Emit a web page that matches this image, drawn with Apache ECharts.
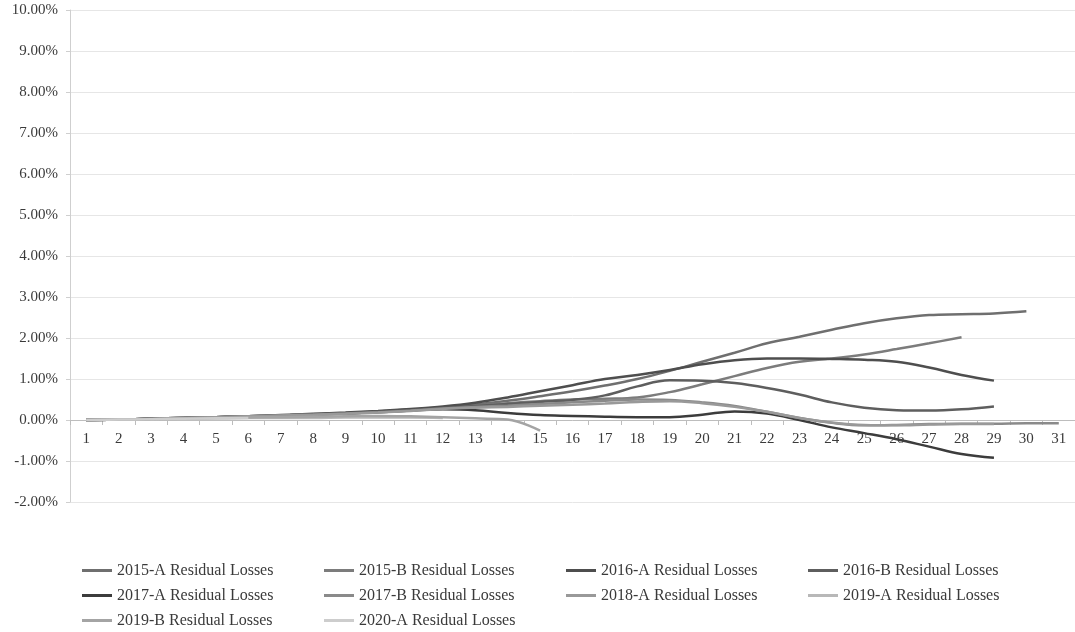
<!DOCTYPE html>
<html>
<head>
<meta charset="utf-8">
<script src="https://cdn.jsdelivr.net/npm/echarts@6/dist/echarts.min.js"></script>
<style>html,body{margin:0;padding:0;background:#fff}#c{width:1075px;height:632px}</style>
</head>
<body>
<div id="c"></div>
<script>
const categories = ['1','2','3','4','5','6','7','8','9','10','11','12','13','14','15','16','17','18','19','20','21','22','23','24','25','26','27','28','29','30','31'];
const yTicks = { min: -2, max: 10, interval: 1 };

const s2015A = [0,0.01,0.03,0.05,0.07,0.09,0.11,0.14,0.17,0.21,0.26,0.31,0.38,0.47,0.58,0.70,0.84,1.00,1.20,1.42,1.64,1.87,2.03,2.20,2.36,2.48,2.56,2.58,2.60,2.65,null];
const s2015B = [0,0.01,0.03,0.05,0.07,0.09,0.11,0.13,0.16,0.20,0.24,0.29,0.35,0.41,0.46,0.50,0.52,0.55,0.68,0.87,1.07,1.27,1.42,1.50,1.60,1.73,1.87,2.02,null,null,null];
const s2016A = [0,0.01,0.03,0.05,0.07,0.09,0.12,0.15,0.18,0.22,0.27,0.33,0.42,0.55,0.70,0.85,1.00,1.10,1.22,1.36,1.46,1.50,1.50,1.49,1.47,1.42,1.28,1.10,0.96,null,null];
const s2016B = [0,0.01,0.03,0.05,0.07,0.09,0.11,0.13,0.16,0.20,0.24,0.29,0.34,0.39,0.44,0.49,0.60,0.82,0.97,0.96,0.90,0.78,0.62,0.43,0.30,0.24,0.23,0.26,0.33,null,null];
const s2017A = [0,0.01,0.03,0.05,0.07,0.09,0.11,0.13,0.16,0.19,0.23,0.26,0.24,0.17,0.12,0.10,0.08,0.07,0.07,0.13,0.21,0.16,0.00,-0.18,-0.32,-0.47,-0.65,-0.83,-0.92,null,null];
const s2017B = [0,0.01,0.03,0.05,0.07,0.09,0.11,0.13,0.16,0.19,0.23,0.28,0.32,0.35,0.39,0.43,0.47,0.50,0.49,0.43,0.34,0.20,0.05,-0.07,-0.13,-0.12,-0.10,-0.09,-0.09,-0.08,-0.08];
const s2018A = [0,0.01,0.03,0.05,0.07,0.09,0.11,0.13,0.15,0.18,0.22,0.27,0.30,0.32,0.35,0.37,0.40,0.44,0.46,0.41,0.32,0.20,0.05,-0.06,-0.12,-0.13,-0.11,-0.10,-0.10,null,null];
const s2019A = [0,0.01,0.02,0.03,0.04,0.05,0.05,0.05,0.06,0.06,0.06,0.05,null,null,null,null,null,null,null,null,null,null,null,null,null,null,null,null,null,null,null];
const s2019B = [0,0.01,0.02,0.03,0.05,0.06,0.07,0.08,0.09,0.10,0.09,0.07,0.04,0.01,-0.26,null,null,null,null,null,null,null,null,null,null,null,null,null,null,null,null];
const s2020A = [0,0.01,0.02,0.03,0.04,0.05,null,null,null,null,null,null,null,null,null,null,null,null,null,null,null,null,null,null,null,null,null,null,null,null,null];

const seriesNames = ['2015-A Residual Losses','2015-B Residual Losses','2016-A Residual Losses','2016-B Residual Losses','2017-A Residual Losses','2017-B Residual Losses','2018-A Residual Losses','2019-A Residual Losses','2019-B Residual Losses','2020-A Residual Losses'];
const seriesData = [s2015A,s2015B,s2016A,s2016B,s2017A,s2017B,s2018A,s2019A,s2019B,s2020A];
const seriesColors = ['#6f6f6f','#7c7c7c','#4e4e4e','#5e5e5e','#3c3c3c','#8a8a8a','#999999','#b8b8b8','#a4a4a4','#cdcdcd'];

const font = "'Liberation Serif','Times New Roman',serif";
const chart = echarts.init(document.getElementById('c'), null, {renderer:'canvas'});
chart.setOption({
  animation: false,
  backgroundColor: '#ffffff',
  color: seriesColors,
  grid: { left: 70, top: 10, right: -8, bottom: 130, containLabel: false },
  legend: {
    left: 77, top: 553, width: 980,
    orient: 'horizontal',
    itemGap: 0, itemWidth: 30, itemHeight: 3, icon: 'rect',
    textStyle: { fontFamily: font, fontSize: 16, color: '#3a3a3a', width: 207, lineHeight: 25 },
    data: seriesNames
  },
  xAxis: {
    type: 'category', data: categories, boundaryGap: true,
    offset: -82,
    axisLine: { onZero: false, lineStyle: { color: '#bdbdbd', width: 1 } },
    axisTick: { show: true, length: 5, lineStyle: { color: '#bdbdbd' } },
    axisLabel: { fontFamily: font, fontSize: 15, color: '#3a3a3a', margin: 12, interval: 0 },
    splitLine: { show: false }
  },
  yAxis: {
    type: 'value', min: yTicks.min, max: yTicks.max, interval: yTicks.interval,
    axisLine: { show: true, lineStyle: { color: '#cfcfcf' } },
    axisTick: { show: true, length: 4, lineStyle: { color: '#cfcfcf' } },
    axisLabel: { fontFamily: font, fontSize: 15, color: '#3a3a3a', margin: 12, formatter: v => v.toFixed(2) + '%' },
    splitLine: { show: true, lineStyle: { color: '#e6e6e6', width: 1 } }
  },
  series: seriesNames.map((n, i) => ({
    name: n, type: 'line', data: seriesData[i], smooth: 0.4, showSymbol: false, symbol: 'none',
    connectNulls: false,
    lineStyle: { width: 2.5, color: seriesColors[i] },
    itemStyle: { color: seriesColors[i] }
  }))
});
</script>
</body>
</html>
